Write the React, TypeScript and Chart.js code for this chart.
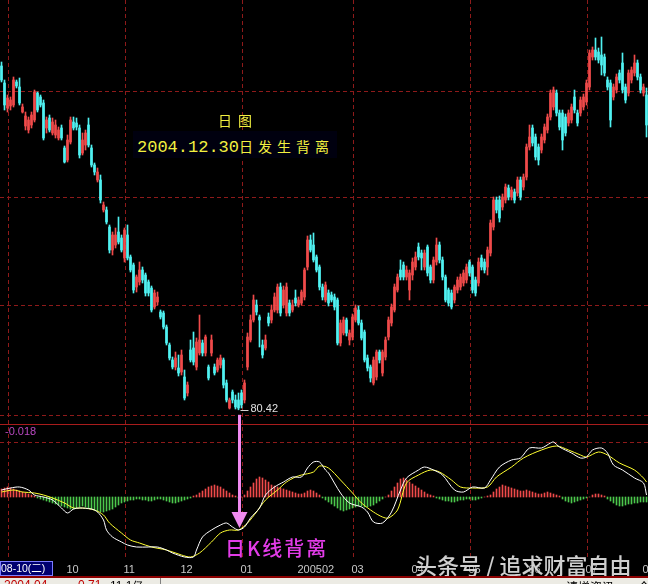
import React, { useEffect, useRef } from 'react';
import { Chart, registerables } from 'chart.js';
Chart.register(...registerables);

// ---- daily candles (price) ----
const OPEN = [
  114.8, 113.1, 110.6, 110.8, 110.9, 113.2, 112.7, 110.2, 108.8, 108.4,
  108.9, 109.4, 112.1, 111.7, 111.1, 108.6, 109.6, 108.1, 107.9, 107.6,
  108.6, 106.6, 105.4, 107.2, 109.2, 109.1, 108.6, 106.1, 106.9, 108.9,
  106.6, 104.9, 103.4, 103.4, 100.4, 100.4, 98.7, 96.4, 96.9, 98.2,
  97.6, 95.6, 97.9, 95.7, 94.9, 92.7, 93.2, 94.4, 93.9, 93.2,
  92.6, 90.7, 91.2, 90.2, 90.1, 88.7, 86.9, 85.4, 84.7, 84.6,
  84.2, 83.7, 82.1, 86.4, 86.6, 84.7, 86.1, 87.1, 86.1, 84.7,
  86.1, 84.7, 84.4, 84.9, 85.4, 83.1, 80.6, 82.2, 81.4, 81.4,
  82.1, 81.4, 84.7, 87.4, 89.4, 90.9, 89.7, 86.9, 86.6, 89.7,
  89.4, 90.4, 90.4, 92.7, 90.9, 90.1, 91.1, 90.4, 91.6, 90.9,
  91.1, 91.7, 94.7, 97.4, 96.9, 95.7, 94.7, 92.7, 91.4, 92.1,
  91.9, 91.7, 91.4, 87.1, 88.1, 89.4, 87.4, 87.7, 89.4, 90.4,
  89.1, 88.2, 85.6, 84.7, 83.1, 83.7, 86.2, 84.1, 85.7, 87.7,
  89.1, 90.4, 92.4, 94.4, 94.9, 93.7, 92.4, 93.9, 94.7, 96.7,
  96.1, 94.7, 96.7, 94.7, 93.4, 95.2, 96.9, 95.4, 93.7, 92.4,
  92.1, 91.4, 92.4, 92.7, 93.1, 93.4, 95.2, 94.7, 93.4, 93.1,
  95.6, 95.2, 94.7, 96.1, 98.7, 101.4, 101.4, 100.7, 101.4, 102.6,
  101.7, 102.2, 102.1, 103.4, 102.7, 103.7, 106.7, 108.6, 107.7, 106.7,
  106.4, 107.4, 108.4, 109.7, 110.7, 112.1, 110.1, 110.1, 109.7, 109.1,
  109.4, 111.7, 110.1, 110.1, 110.7, 111.2, 112.7, 115.7, 116.4, 116.2,
  115.9, 115.7, 113.4, 113.1, 111.7, 112.4, 114.1, 115.1, 112.7, 112.1,
  113.4, 114.1, 115.1, 113.7, 112.1, 111.9,
];
const HIGH = [
  115.2, 113.4, 111.9, 111.7, 113.7, 113.4, 113.6, 111.0, 110.2, 109.7,
  110.2, 112.4, 112.2, 111.9, 111.4, 109.7, 109.9, 109.6, 109.4, 108.7,
  108.9, 106.8, 107.9, 109.7, 109.7, 109.6, 108.9, 108.1, 108.4, 109.6,
  106.9, 105.1, 104.6, 103.9, 101.2, 100.7, 98.9, 98.2, 98.6, 99.7,
  97.9, 98.6, 98.9, 95.9, 95.1, 93.9, 95.2, 94.7, 94.1, 93.4,
  92.8, 92.4, 92.2, 90.4, 90.3, 88.9, 87.1, 85.7, 86.2, 85.9,
  86.4, 84.4, 83.2, 87.4, 88.2, 87.6, 89.9, 87.4, 87.9, 84.9,
  87.9, 85.0, 85.6, 85.9, 85.6, 83.4, 81.6, 82.4, 81.9, 82.1,
  82.4, 83.4, 88.1, 89.9, 91.9, 91.4, 89.9, 87.4, 87.9, 90.1,
  90.9, 92.1, 93.0, 93.1, 92.8, 93.1, 91.4, 91.4, 92.4, 91.7,
  92.4, 94.6, 97.8, 97.9, 98.1, 95.9, 94.9, 93.0, 93.2, 92.4,
  92.2, 92.0, 91.6, 89.4, 89.7, 89.6, 88.4, 90.0, 90.9, 90.8,
  89.4, 88.4, 85.9, 84.9, 85.7, 86.4, 86.4, 86.4, 87.7, 89.7,
  91.0, 93.0, 94.0, 95.4, 95.2, 94.8, 94.4, 95.6, 96.2, 97.1,
  96.4, 96.4, 96.9, 94.9, 95.7, 97.6, 97.2, 95.7, 93.9, 92.6,
  92.4, 92.9, 93.7, 94.0, 94.4, 95.0, 95.4, 94.9, 93.7, 95.6,
  95.9, 95.5, 96.7, 99.4, 101.7, 101.7, 101.8, 102.0, 103.0, 102.9,
  102.7, 102.5, 103.7, 103.7, 104.0, 107.0, 108.9, 108.9, 108.0, 107.0,
  108.0, 109.0, 110.0, 112.4, 112.7, 112.4, 110.4, 110.4, 110.0, 110.4,
  111.0, 112.4, 110.4, 111.7, 112.0, 113.4, 116.4, 116.7, 117.6, 116.6,
  117.7, 116.0, 113.7, 113.4, 113.0, 114.0, 114.4, 116.1, 113.0, 114.4,
  114.7, 115.9, 115.4, 114.0, 113.0, 112.6,
];
const LOW = [
  113.2, 110.4, 110.2, 110.4, 110.7, 112.6, 110.9, 110.1, 108.4, 108.1,
  108.6, 109.2, 110.2, 110.7, 107.4, 108.1, 108.2, 107.9, 107.6, 107.4,
  107.4, 105.1, 105.2, 107.0, 108.4, 108.4, 105.6, 105.9, 106.4, 106.7,
  104.7, 103.9, 103.2, 101.1, 100.2, 99.0, 96.1, 95.9, 96.6, 97.0,
  96.2, 95.2, 95.4, 94.2, 92.1, 92.2, 92.9, 93.1, 91.8, 91.8,
  90.2, 90.5, 90.9, 89.5, 88.5, 86.9, 85.4, 84.5, 84.4, 83.8,
  83.9, 81.4, 81.8, 85.2, 84.9, 84.4, 85.9, 85.8, 85.8, 83.4,
  85.8, 83.9, 84.2, 84.6, 82.6, 81.2, 80.5, 81.1, 80.5, 80.42,
  80.6, 81.1, 84.4, 87.2, 89.2, 89.9, 86.7, 85.6, 86.4, 88.8,
  89.1, 90.2, 90.1, 89.8, 90.6, 89.8, 89.8, 90.2, 90.8, 90.7,
  90.9, 91.4, 94.4, 96.2, 95.2, 94.2, 92.4, 91.4, 91.2, 90.8,
  91.2, 90.4, 86.9, 86.8, 87.9, 87.8, 86.9, 87.4, 89.2, 88.9,
  87.4, 85.2, 84.3, 83.2, 82.9, 83.4, 85.1, 83.8, 85.4, 87.4,
  88.8, 90.2, 92.2, 93.4, 93.4, 93.4, 91.4, 93.4, 94.4, 95.4,
  94.4, 94.4, 93.8, 93.1, 93.1, 94.9, 95.1, 93.4, 91.2, 90.8,
  90.5, 91.1, 92.1, 92.4, 92.8, 93.1, 93.8, 92.1, 91.8, 92.8,
  94.4, 94.1, 93.9, 95.8, 98.4, 100.1, 99.2, 100.4, 101.1, 101.4,
  101.4, 101.1, 101.8, 101.4, 102.4, 103.4, 106.4, 106.8, 105.4, 104.9,
  106.1, 107.1, 108.1, 109.4, 110.4, 109.8, 108.4, 106.4, 107.8, 108.8,
  109.1, 110.1, 108.8, 109.8, 110.4, 110.9, 112.4, 115.4, 115.4, 115.1,
  113.9, 113.8, 112.4, 108.7, 111.4, 112.1, 113.1, 112.1, 111.1, 111.8,
  113.1, 113.8, 113.4, 112.1, 111.8, 107.7,
];
const CLOSE = [
  113.4, 110.9, 111.6, 111.4, 113.4, 112.8, 111.1, 110.7, 109.8, 109.4,
  109.9, 112.2, 110.4, 110.9, 107.6, 109.4, 108.4, 109.2, 108.9, 108.4,
  107.6, 105.2, 107.4, 109.4, 108.6, 108.7, 105.9, 107.4, 108.1, 106.9,
  104.9, 104.2, 104.2, 101.4, 100.9, 99.2, 96.4, 97.9, 97.9, 97.2,
  96.4, 98.4, 95.6, 94.4, 92.4, 93.7, 94.4, 93.4, 92.1, 92.1,
  90.4, 92.1, 91.7, 89.7, 88.7, 87.1, 85.6, 84.7, 85.6, 84.1,
  85.9, 81.6, 82.9, 85.4, 85.2, 87.2, 87.4, 86.1, 87.7, 83.6,
  87.4, 84.1, 85.4, 85.6, 82.9, 81.4, 81.4, 81.4, 80.7, 80.6,
  80.9, 83.1, 87.7, 89.4, 91.4, 90.2, 89.4, 85.9, 87.4, 89.1,
  90.4, 91.7, 92.7, 90.1, 92.4, 92.7, 90.1, 90.9, 91.1, 91.4,
  92.2, 94.4, 97.4, 96.4, 95.4, 94.4, 92.7, 91.7, 92.9, 91.1,
  91.4, 90.7, 87.1, 89.1, 89.4, 88.1, 88.1, 89.7, 90.6, 89.1,
  87.6, 85.4, 84.6, 83.6, 85.4, 86.2, 85.4, 86.2, 87.4, 89.4,
  90.7, 92.7, 93.7, 93.7, 93.7, 94.4, 94.1, 95.2, 95.7, 95.7,
  95.6, 96.1, 94.1, 93.4, 95.4, 96.9, 95.4, 93.7, 91.4, 91.1,
  90.7, 92.7, 93.4, 93.7, 94.1, 94.7, 94.1, 92.4, 92.1, 95.2,
  94.7, 94.4, 96.4, 99.1, 101.4, 100.4, 99.6, 101.7, 102.7, 101.7,
  102.4, 101.4, 103.4, 101.7, 103.7, 106.7, 107.7, 107.1, 105.7, 105.4,
  107.7, 108.7, 109.7, 112.1, 112.4, 110.1, 108.7, 107.4, 108.1, 110.1,
  110.7, 110.4, 109.1, 111.4, 111.7, 113.1, 116.1, 116.4, 115.7, 115.4,
  114.9, 114.1, 112.7, 109.4, 112.7, 113.7, 113.4, 112.4, 111.4, 114.1,
  114.4, 115.1, 113.7, 112.4, 112.7, 108.9,
];

// ---- MACD panel ----
const HIST = [
  0.4, 0.45, 0.5, 0.45, 0.4, 0.35, 0.3, 0.25, 0.2, 0.15,
  0.1, 0.05, -0.05, -0.1, -0.15,
  -0.2, -0.25, -0.3, -0.35, -0.4, -0.45, -0.5, -0.55,
  -0.6, -0.6, -0.55, -0.5, -0.45, -0.5, -0.55,
  -0.6, -0.65, -0.7, -0.75, -0.75, -0.7, -0.65, -0.6, -0.5, -0.4, -0.3, -0.25,
  -0.2, -0.15, -0.15, -0.1, -0.1, -0.15, -0.15, -0.2, -0.2, -0.15, -0.1, -0.1,
  -0.15, -0.2, -0.25, -0.3, -0.3, -0.25, -0.2, -0.15, -0.1, -0.05, 0.05,
  0.1, 0.2, 0.3, 0.4, 0.5, 0.55, 0.6, 0.55, 0.5, 0.4, 0.3, 0.2, 0.1, 0.05,
  -0.05, 0, 0.1,
  0.3, 0.5, 0.7, 0.9, 1.0, 0.95, 0.85, 0.75, 0.6, 0.55, 0.5, 0.45, 0.4, 0.35, 0.3, 0.25, 0.2, 0.15,
  0.15, 0.2, 0.3, 0.35, 0.3, 0.2, 0.1,
  -0.05, -0.15, -0.25, -0.35, -0.45, -0.55, -0.65, -0.7, -0.65, -0.6, -0.55, -0.5,
  -0.45, -0.45, -0.5, -0.5, -0.45, -0.4, -0.3, -0.2, -0.1, 0, 0.1,
  0.3, 0.5, 0.7, 0.9, 0.95, 0.85, 0.75, 0.65, 0.55, 0.45, 0.35, 0.25, 0.15, 0.1, 0.05,
  -0.05, -0.1, -0.15, -0.2, -0.2, -0.25, -0.25, -0.2, -0.15, -0.15, -0.1, -0.1,
  -0.15, -0.15, -0.1, -0.05, 0, 0.05,
  0.1, 0.25, 0.4, 0.5, 0.6, 0.55, 0.5, 0.45, 0.4, 0.35, 0.3, 0.3,
  0.35, 0.3, 0.25, 0.2, 0.15, 0.15, 0.2, 0.25, 0.2, 0.15, 0.1, 0.05,
  -0.1, -0.2, -0.25, -0.3, -0.25, -0.2, -0.15, -0.1, -0.05, 0,
  0.1, 0.15, 0.15, 0.1, 0.05,
  -0.1, -0.2, -0.3, -0.4, -0.45, -0.45, -0.4, -0.35, -0.35, -0.3, -0.3, -0.25, -0.25, -0.25,
];
// [bar index, value]
const DIF_POINTS: [number, number][] = [
  [0, 0.35], [3, 0.45], [6, 0.5], [9, 0.35], [11, 0.1], [14, 0.0], [17, -0.15], [20, -0.55],
  [22, -0.8], [24, -0.6], [26, -0.55], [30, -0.6], [32, -0.75], [34, -1.15], [35, -1.65],
  [37, -2.0], [40, -2.25], [42, -2.4], [45, -2.5], [49, -2.5], [52, -2.5], [55, -2.65],
  [57, -2.8], [61, -3.0], [64, -3.0], [65, -2.65], [67, -2.0], [70, -1.65], [73, -1.4],
  [75, -1.3], [77, -1.5], [79, -1.65], [81, -1.5], [83, -1.05], [86, -0.55], [88, 0.1],
  [91, 0.5], [94, 0.75], [97, 1.0], [100, 1.0], [102, 1.45], [104, 1.75], [106, 1.75],
  [108, 1.35], [109, 1.2], [113, 0.2], [116, -0.3], [120, -0.5], [122, -0.75], [124, -1.25],
  [127, -1.3], [130, -0.75], [133, 0.35], [135, 0.95], [139, 1.35], [141, 1.5], [144, 1.35],
  [147, 1.1], [151, 0.35], [154, 0.25], [157, 0.5], [161, 0.45], [163, 0.85], [166, 1.5],
  [170, 1.85], [173, 1.95], [176, 2.45], [180, 2.45], [183, 2.7], [184, 2.75], [186, 2.5],
  [190, 2.2], [193, 1.95], [195, 2.0], [197, 2.35], [200, 2.45], [202, 2.2], [204, 1.6],
  [207, 1.35], [211, 0.95], [214, 0.7], [215, 0.1],
];
const DEA_POINTS: [number, number][] = [
  [0, 0.25], [4, 0.35], [7, 0.25], [11, 0.2], [14, 0.1], [17, -0.05], [21, -0.3], [24, -0.55],
  [27, -0.55], [31, -0.65], [34, -0.9], [36, -1.3], [40, -1.8], [43, -2.15], [46, -2.3],
  [50, -2.5], [55, -2.65], [60, -2.9], [63, -3.0], [66, -2.8], [70, -2.25], [73, -1.8],
  [76, -1.65], [79, -1.65], [82, -1.3], [85, -0.75], [88, -0.15], [92, 0.35], [95, 0.75],
  [98, 1.0], [100, 1.1], [104, 1.25], [106, 1.55], [109, 1.45], [113, 0.85], [117, 0.2],
  [120, -0.3], [124, -0.75], [127, -1.0], [129, -1.05], [132, -0.65], [135, 0.7], [139, 1.1],
  [143, 1.35], [146, 1.25], [150, 0.85], [153, 0.5], [157, 0.45], [162, 0.5], [165, 1.0],
  [170, 1.5], [174, 1.95], [180, 2.35], [185, 2.55], [189, 2.35], [193, 2.1], [195, 2.0],
  [199, 2.25], [202, 2.1], [206, 1.7], [211, 1.35], [214, 0.95], [215, 0.75],
];

// ---- axis / grid ----
const MONTH_TICKS: [number, string][] = [
  [2, '09'], [22, '10'], [41, '11'], [60, '12'], [80, '01'], [99, '200502'], [117, '03'],
  [137, '04'], [156, '05'], [176, '06'], [195, '07'], [214, '08'],
];
const VGRID_IDX = [2, 41, 80, 117, 156, 195];
const PRICE_GRID = [112.3, 101.7, 90.9, 79.9];
const PRICE_RANGE = [65.4, 121.4];
const MACD_RANGE = [-3.15, 24.85];
const MACD_GRID = [2.75];
const MACD_TOP = 3.65;
const LOW_INDEX = 79;
const LOW_PRICE = 80.42;

const RED = '#f04a4a';
const CYAN = '#50f2f2';
const GREEN = '#4cc84c';
const GRID = '#8e1a1a';

export default function App() {
  const ref = useRef<HTMLCanvasElement>(null);

  useEffect(() => {
    const labels = OPEN.map((_, i) => String(i));
    const colors = OPEN.map((o, i) => (CLOSE[i] >= o ? RED : CYAN));
    const dif: (number | null)[] = labels.map(() => null);
    DIF_POINTS.forEach(([i, v]) => (dif[i] = v));
    const dea: (number | null)[] = labels.map(() => null);
    DEA_POINTS.forEach(([i, v]) => (dea[i] = v));
    const deaAtLow = DEA_POINTS.find(p => p[0] === LOW_INDEX)![1];

    const bgPlugin = {
      id: 'bg',
      beforeDraw(c: any) {
        const ctx = c.ctx;
        ctx.save();
        ctx.fillStyle = '#000';
        ctx.fillRect(0, 0, c.width, c.height);
        ctx.restore();
      },
    };
    const gridPlugin = {
      id: 'panelGrid',
      beforeDatasetsDraw(c: any) {
        const { ctx, chartArea } = c;
        const x = c.scales.x, y = c.scales.y, y2 = c.scales.y2;
        ctx.save();
        ctx.strokeStyle = GRID;
        ctx.lineWidth = 1;
        ctx.setLineDash([4, 3]);
        const hline = (py: number) => {
          const yy = Math.round(py) + 0.5;
          ctx.beginPath(); ctx.moveTo(chartArea.left, yy); ctx.lineTo(chartArea.right, yy); ctx.stroke();
        };
        PRICE_GRID.forEach(v => hline(y.getPixelForValue(v)));
        MACD_GRID.forEach(v => hline(y2.getPixelForValue(v)));
        VGRID_IDX.forEach(i => {
          const xx = Math.round(x.getPixelForValue(i)) + 0.5;
          ctx.beginPath(); ctx.moveTo(xx, chartArea.top); ctx.lineTo(xx, chartArea.bottom); ctx.stroke();
        });
        ctx.setLineDash([]);
        ctx.strokeStyle = '#a81c1c';
        hline(y2.getPixelForValue(MACD_TOP));
        ctx.restore();
      },
    };
    const annotPlugin = {
      id: 'annot',
      afterDatasetsDraw(c: any) {
        const { ctx, chartArea } = c;
        const x = c.scales.x, y = c.scales.y, y2 = c.scales.y2;
        ctx.save();
        // low price label
        const lx = x.getPixelForValue(LOW_INDEX);
        const ly = y.getPixelForValue(LOW_PRICE);
        ctx.strokeStyle = '#d0d0d0';
        ctx.lineWidth = 1;
        ctx.beginPath(); ctx.moveTo(lx + 2, Math.round(ly) + 0.5); ctx.lineTo(lx + 10, Math.round(ly) + 0.5); ctx.stroke();
        ctx.fillStyle = '#e0e0e0';
        ctx.font = '11px "Liberation Sans", Arial, sans-serif';
        ctx.textBaseline = 'alphabetic';
        ctx.textAlign = 'left';
        ctx.fillText(LOW_PRICE.toFixed(2), lx + 12, ly + 2);
        // pink arrow
        const tipY = y2.getPixelForValue(deaAtLow) - 2;
        const ax = lx + 1;
        ctx.strokeStyle = '#f08af0';
        ctx.fillStyle = '#f08af0';
        ctx.lineWidth = 3;
        ctx.beginPath(); ctx.moveTo(ax, ly + 5); ctx.lineTo(ax, tipY - 14); ctx.stroke();
        ctx.beginPath();
        ctx.moveTo(ax - 8, tipY - 16); ctx.lineTo(ax + 8, tipY - 16); ctx.lineTo(ax, tipY); ctx.closePath();
        ctx.fill();
        // month labels
        ctx.fillStyle = '#c8c8c8';
        ctx.font = '11px "Liberation Sans", Arial, sans-serif';
        ctx.textBaseline = 'top';
        MONTH_TICKS.forEach(([i, t]) => {
          ctx.fillText(t, x.getPixelForValue(i) - 1, chartArea.bottom + 4);
        });
        ctx.restore();
      },
    };

    const chart = new Chart(ref.current!, {
      type: 'bar',
      data: {
        labels,
        datasets: [
          {
            type: 'line', label: 'DIF', data: dif, yAxisID: 'y2', borderColor: '#ffffff',
            borderWidth: 1, pointRadius: 0, spanGaps: true, tension: 0.3, order: 0,
          } as any,
          {
            type: 'line', label: 'DEA', data: dea, yAxisID: 'y2', borderColor: '#ffff30',
            borderWidth: 1, pointRadius: 0, spanGaps: true, tension: 0.3, order: 1,
          } as any,
          {
            label: 'body', data: OPEN.map((o, i) => [o, CLOSE[i]]), yAxisID: 'y',
            backgroundColor: colors, barThickness: 2, minBarLength: 1, grouped: false, order: 2,
          } as any,
          {
            label: 'wick', data: LOW.map((l, i) => [l, HIGH[i]]), yAxisID: 'y',
            backgroundColor: colors, barThickness: 1, grouped: false, order: 3,
          } as any,
          {
            label: 'MACD', data: HIST, yAxisID: 'y2',
            backgroundColor: HIST.map(v => (v >= 0 ? RED : GREEN)), barThickness: 1, grouped: false, order: 4,
          } as any,
        ],
      },
      options: {
        responsive: false,
        animation: false,
        devicePixelRatio: 1,
        events: [],
        layout: { padding: { left: 0, right: 0, top: 0, bottom: 16 } },
        plugins: { legend: { display: false }, tooltip: { enabled: false } },
        scales: {
          x: { type: 'category', display: false, offset: true },
          y: { type: 'linear', display: false, min: PRICE_RANGE[0], max: PRICE_RANGE[1] },
          y2: { type: 'linear', display: false, min: MACD_RANGE[0], max: MACD_RANGE[1] },
        },
      } as any,
      plugins: [bgPlugin, gridPlugin, annotPlugin],
    });
    return () => chart.destroy();
  }, []);

  const cjk = '"Noto Sans CJK SC", "Noto Sans", sans-serif';
  return (
    <div style={{ position: 'absolute', left: 0, top: 0, width: 648, height: 584, background: '#000', overflow: 'hidden' }}>
      <canvas ref={ref} width={648} height={576} style={{ position: 'absolute', left: 0, top: 0 }} />
      <div style={{ position: 'absolute', left: 218, top: 112, color: '#f2f040', font: `14px ${cjk}`, letterSpacing: 6, lineHeight: '16px', whiteSpace: 'nowrap' }}>日图</div>
      <div style={{ position: 'absolute', left: 133, top: 131, width: 204, height: 27, background: '#00000f' }} />
      <div style={{ position: 'absolute', left: 137, top: 136, color: '#f2f040', whiteSpace: 'nowrap', lineHeight: '20px' }}>
        <span style={{ font: '17px "Liberation Mono", "DejaVu Sans Mono", monospace' }}>2004.12.30</span>
        <span style={{ font: `14px ${cjk}`, letterSpacing: 5 }}>日发生背离</span>
      </div>
      <div style={{ position: 'absolute', left: 5, top: 425, color: '#b848c0', font: '11px "Liberation Sans", Arial, sans-serif', whiteSpace: 'nowrap' }}>-0.018</div>
      <div style={{ position: 'absolute', left: 225, top: 536, color: '#e23ce8', font: `500 20px ${cjk}`, letterSpacing: 2, lineHeight: '24px', whiteSpace: 'nowrap' }}>日K线背离</div>
      <div style={{ position: 'absolute', left: 0, top: 561, width: 51, height: 13, background: '#000070', border: '1px solid #7c7cff', color: '#ffffff', font: `10.5px "Liberation Sans", ${cjk}`, lineHeight: '13px', whiteSpace: 'nowrap', overflow: 'hidden' }}>08-10(二)</div>
      <div style={{ position: 'absolute', left: 415, top: 551, color: 'rgba(236,236,236,0.88)', font: `500 22px ${cjk}`, lineHeight: '26px', whiteSpace: 'nowrap', textShadow: '0 0 2px rgba(0,0,0,0.7)' }}>头条号 / 追求财富自由</div>
      <div style={{ position: 'absolute', left: 0, top: 576, width: 648, height: 8, background: '#ecebe4', borderTop: '2px solid #8c0000', overflow: 'hidden', font: '12px "Liberation Sans", Arial, sans-serif' }}>
        <span style={{ position: 'absolute', left: 4, top: 0, color: '#c00000' }}>2004.04</span>
        <span style={{ position: 'absolute', left: 78, top: 0, color: '#c00000' }}>0.71</span>
        <span style={{ position: 'absolute', left: 110, top: 0, color: '#000000' }}>11.1亿</span>
        <span style={{ position: 'absolute', left: 160, top: -2, width: 1, height: 10, background: '#808080' }} />
        <span style={{ position: 'absolute', left: 566, top: 0, color: '#000000', fontFamily: cjk }}>请增资讯</span>
        <span style={{ position: 'absolute', left: 638, top: 0, color: '#000000', fontFamily: cjk }}>今</span>
      </div>
    </div>
  );
}
